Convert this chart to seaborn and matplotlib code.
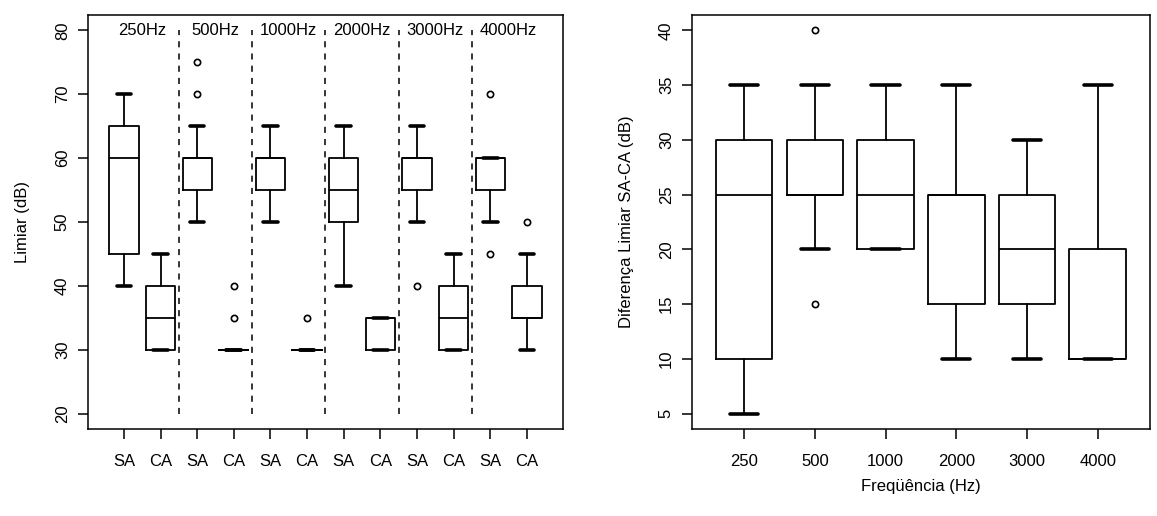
import numpy as np
import matplotlib
matplotlib.use("Agg")
import matplotlib.pyplot as plt
import seaborn as sns

# left panel: threshold per frequency, SA / CA
freq_labels = ["250Hz", "500Hz", "1000Hz", "2000Hz", "3000Hz", "4000Hz"]
cond_labels = ["SA", "CA"] * 6
left_whislo = [40, 30, 50, 30, 50, 30, 40, 30, 50, 30, 50, 30]
left_q1 = [45, 30, 55, 30, 55, 30, 50, 30, 55, 30, 55, 35]
left_med = [60, 35, 60, 30, 60, 30, 55, 35, 60, 35, 60, 35]
left_q3 = [65, 40, 60, 30, 60, 30, 60, 35, 60, 40, 60, 40]
left_whishi = [70, 45, 65, 30, 65, 30, 65, 35, 65, 45, 60, 45]
left_fliers = [[], [], [70, 75], [35, 40], [], [35], [], [], [40], [], [45, 70], [50]]

# right panel: difference SA-CA per frequency
diff_labels = ["250", "500", "1000", "2000", "3000", "4000"]
right_whislo = [5, 20, 20, 10, 10, 10]
right_q1 = [10, 25, 20, 15, 15, 10]
right_med = [25, 25, 25, 25, 20, 10]
right_q3 = [30, 30, 30, 25, 25, 20]
right_whishi = [35, 35, 35, 35, 30, 35]
right_fliers = [[], [15, 40], [], [], [], []]

sns.set_style("ticks")
plt.rcParams['font.family'] = ['Liberation Sans', 'DejaVu Sans']
plt.rcParams['font.size'] = 12
plt.rcParams['text.color'] = 'black'
plt.rcParams['axes.labelcolor'] = 'black'
plt.rcParams['xtick.color'] = 'black'
plt.rcParams['ytick.color'] = 'black'


def make_stats(lo, q1, med, q3, hi, fl):
    return [dict(whislo=a, q1=b, med=c, q3=d, whishi=e, fliers=f)
            for a, b, c, d, e, f in zip(lo, q1, med, q3, hi, fl)]


def draw(ax, stats):
    ax.bxp(stats, positions=np.arange(1, len(stats) + 1), widths=0.8,
           capwidths=0.4, patch_artist=False,
           boxprops=dict(color='black', lw=1.3),
           whiskerprops=dict(color='black', lw=1.3),
           capprops=dict(color='black', lw=2.6),
           medianprops=dict(color='black', lw=1.3),
           flierprops=dict(marker='o', mfc='none', mec='black', ms=4.5, mew=1.2))
    for s in ax.spines.values():
        s.set_visible(True)
        s.set_linewidth(1.1)
        s.set_color('black')
    ax.tick_params(axis='both', direction='out', length=7, width=1.1, color='black',
                   labelcolor='black', labelsize=12)
    ax.tick_params(axis='x', pad=11)
    ax.tick_params(axis='y', pad=6)


fig = plt.figure(figsize=(11.57, 5.16), dpi=100)
ax1 = fig.add_axes([0.076, 0.1686, 0.4106, 0.8024])
ax2 = fig.add_axes([0.598, 0.1686, 0.396, 0.8024])

draw(ax1, make_stats(left_whislo, left_q1, left_med, left_q3, left_whishi, left_fliers))
ax1.set_xlim(0.02, 12.98)
ax1.set_ylim(17.6, 82.4)
ax1.set_yticks([20, 30, 40, 50, 60, 70, 80])
ax1.set_xticks(np.arange(1, 13))
ax1.set_xticklabels(cond_labels)
for t in ax1.get_yticklabels():
    t.set_rotation(90)
    t.set_va('center')
ax1.set_ylabel("Limiar (dB)", fontsize=12, labelpad=18)
for i in range(5):
    ax1.plot([2.5 + 2 * i] * 2, [20, 80], color='black', lw=1.1, ls=(0, (4, 4)))
for i, lab in enumerate(freq_labels):
    ax1.text(1.5 + 2 * i, 80, lab, ha='center', va='center', fontsize=12)

draw(ax2, make_stats(right_whislo, right_q1, right_med, right_q3, right_whishi, right_fliers))
ax2.set_xlim(0.26, 6.74)
ax2.set_ylim(3.6, 41.4)
ax2.set_yticks([5, 10, 15, 20, 25, 30, 35, 40])
ax2.set_xticks(np.arange(1, 7))
ax2.set_xticklabels(diff_labels)
for t in ax2.get_yticklabels():
    t.set_rotation(90)
    t.set_va('center')
ax2.set_ylabel("Diferença Limiar SA-CA (dB)", fontsize=12, labelpad=18)
ax2.set_xlabel("Freqüência (Hz)", fontsize=12, labelpad=7)

fig.savefig("out.png", dpi=100)
